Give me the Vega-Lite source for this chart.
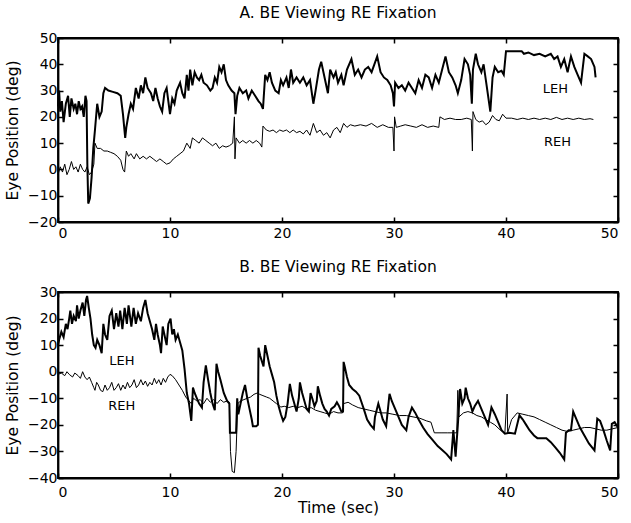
{
  "$schema": "https://vega.github.io/schema/vega-lite/v6.json",
  "background": "white",
  "padding": {"left": 4, "top": 4, "right": 5, "bottom": 3},
  "config": {
    "font": "DejaVu Sans",
    "view": {"stroke": "black", "strokeWidth": 1.8},
    "axis": {"domainColor": "black", "domainWidth": 1.8, "tickColor": "black", "tickSize": -5, "tickWidth": 1.5, "labelColor": "black", "labelFontSize": 14, "titleColor": "black", "titleFontSize": 15.5, "titleFontWeight": "normal", "grid": false, "labelFont": "DejaVu Sans", "titleFont": "DejaVu Sans"},
    "title": {"fontSize": 15.5, "fontWeight": "normal", "color": "black", "frame": "group", "anchor": "middle", "font": "DejaVu Sans"}
  },
  "datasets": {
    "a": [
      {"s":"LEH","t":0,"v":24},{"s":"LEH","t":0.1,"v":30},{"s":"LEH","t":0.2,"v":22},{"s":"LEH","t":0.35,"v":26},{"s":"LEH","t":0.5,"v":18},{"s":"LEH","t":0.7,"v":25},{"s":"LEH","t":0.9,"v":28},{"s":"LEH","t":1.05,"v":20},{"s":"LEH","t":1.2,"v":27},{"s":"LEH","t":1.4,"v":23},{"s":"LEH","t":1.55,"v":25},{"s":"LEH","t":1.7,"v":21},{"s":"LEH","t":1.85,"v":26},{"s":"LEH","t":2.0,"v":23},{"s":"LEH","t":2.15,"v":24},{"s":"LEH","t":2.3,"v":20},{"s":"LEH","t":2.45,"v":28},{"s":"LEH","t":2.55,"v":26},{"s":"LEH","t":2.62,"v":2},{"s":"LEH","t":2.7,"v":-13},{"s":"LEH","t":2.85,"v":-11},{"s":"LEH","t":3.0,"v":-3},{"s":"LEH","t":3.15,"v":8},{"s":"LEH","t":3.3,"v":15},{"s":"LEH","t":3.5,"v":25},{"s":"LEH","t":3.7,"v":20},{"s":"LEH","t":3.9,"v":22},{"s":"LEH","t":4.05,"v":29},{"s":"LEH","t":4.2,"v":31},{"s":"LEH","t":4.5,"v":30},{"s":"LEH","t":4.9,"v":29.5},{"s":"LEH","t":5.3,"v":29},{"s":"LEH","t":5.6,"v":28},{"s":"LEH","t":5.8,"v":21},{"s":"LEH","t":6.0,"v":12},{"s":"LEH","t":6.1,"v":16},{"s":"LEH","t":6.3,"v":21},{"s":"LEH","t":6.5,"v":25},{"s":"LEH","t":6.7,"v":23},{"s":"LEH","t":6.95,"v":31},{"s":"LEH","t":7.2,"v":27},{"s":"LEH","t":7.4,"v":32},{"s":"LEH","t":7.6,"v":29},{"s":"LEH","t":7.8,"v":35},{"s":"LEH","t":8.0,"v":31},{"s":"LEH","t":8.3,"v":29},{"s":"LEH","t":8.5,"v":26},{"s":"LEH","t":8.7,"v":31},{"s":"LEH","t":8.9,"v":27},{"s":"LEH","t":9.1,"v":24},{"s":"LEH","t":9.3,"v":22},{"s":"LEH","t":9.5,"v":29},{"s":"LEH","t":9.7,"v":31},{"s":"LEH","t":9.85,"v":26},{"s":"LEH","t":10.0,"v":21},{"s":"LEH","t":10.2,"v":27},{"s":"LEH","t":10.4,"v":25},{"s":"LEH","t":10.6,"v":30},{"s":"LEH","t":10.9,"v":33},{"s":"LEH","t":11.1,"v":29},{"s":"LEH","t":11.3,"v":27},{"s":"LEH","t":11.5,"v":36},{"s":"LEH","t":11.65,"v":30},{"s":"LEH","t":11.8,"v":38},{"s":"LEH","t":12.0,"v":32},{"s":"LEH","t":12.2,"v":37},{"s":"LEH","t":12.4,"v":35},{"s":"LEH","t":12.6,"v":34},{"s":"LEH","t":12.8,"v":36},{"s":"LEH","t":13.0,"v":33},{"s":"LEH","t":13.3,"v":32},{"s":"LEH","t":13.6,"v":30},{"s":"LEH","t":13.8,"v":31},{"s":"LEH","t":14.0,"v":35},{"s":"LEH","t":14.2,"v":33},{"s":"LEH","t":14.4,"v":39},{"s":"LEH","t":14.6,"v":37},{"s":"LEH","t":14.8,"v":40},{"s":"LEH","t":15.0,"v":34},{"s":"LEH","t":15.2,"v":32},{"s":"LEH","t":15.5,"v":30},{"s":"LEH","t":15.75,"v":29},{"s":"LEH","t":15.85,"v":21},{"s":"LEH","t":16.0,"v":28},{"s":"LEH","t":16.2,"v":31},{"s":"LEH","t":16.5,"v":29},{"s":"LEH","t":16.8,"v":30},{"s":"LEH","t":17.0,"v":27},{"s":"LEH","t":17.3,"v":30},{"s":"LEH","t":17.6,"v":28},{"s":"LEH","t":17.9,"v":26},{"s":"LEH","t":18.1,"v":25},{"s":"LEH","t":18.3,"v":23},{"s":"LEH","t":18.5,"v":36},{"s":"LEH","t":18.7,"v":34},{"s":"LEH","t":18.9,"v":37},{"s":"LEH","t":19.1,"v":33},{"s":"LEH","t":19.4,"v":30},{"s":"LEH","t":19.7,"v":29},{"s":"LEH","t":19.9,"v":34},{"s":"LEH","t":20.1,"v":32},{"s":"LEH","t":20.4,"v":35},{"s":"LEH","t":20.6,"v":31},{"s":"LEH","t":20.8,"v":38},{"s":"LEH","t":21.0,"v":33},{"s":"LEH","t":21.3,"v":35},{"s":"LEH","t":21.6,"v":33},{"s":"LEH","t":21.9,"v":35},{"s":"LEH","t":22.2,"v":32},{"s":"LEH","t":22.5,"v":34},{"s":"LEH","t":22.8,"v":25},{"s":"LEH","t":23.0,"v":30},{"s":"LEH","t":23.3,"v":38},{"s":"LEH","t":23.5,"v":41},{"s":"LEH","t":23.7,"v":37},{"s":"LEH","t":23.9,"v":33},{"s":"LEH","t":24.1,"v":29},{"s":"LEH","t":24.3,"v":38},{"s":"LEH","t":24.6,"v":35},{"s":"LEH","t":24.8,"v":37},{"s":"LEH","t":25.0,"v":33},{"s":"LEH","t":25.3,"v":36},{"s":"LEH","t":25.5,"v":32},{"s":"LEH","t":25.8,"v":38},{"s":"LEH","t":26.2,"v":42},{"s":"LEH","t":26.5,"v":36},{"s":"LEH","t":26.8,"v":38},{"s":"LEH","t":27.1,"v":35},{"s":"LEH","t":27.4,"v":38},{"s":"LEH","t":27.7,"v":39},{"s":"LEH","t":28.0,"v":37},{"s":"LEH","t":28.5,"v":43},{"s":"LEH","t":28.8,"v":37},{"s":"LEH","t":29.1,"v":35},{"s":"LEH","t":29.4,"v":34},{"s":"LEH","t":29.7,"v":32},{"s":"LEH","t":29.9,"v":29},{"s":"LEH","t":30.0,"v":24},{"s":"LEH","t":30.1,"v":33},{"s":"LEH","t":30.4,"v":31},{"s":"LEH","t":30.7,"v":32},{"s":"LEH","t":31.0,"v":30},{"s":"LEH","t":31.3,"v":33},{"s":"LEH","t":31.6,"v":31},{"s":"LEH","t":31.9,"v":29},{"s":"LEH","t":32.2,"v":34},{"s":"LEH","t":32.5,"v":31},{"s":"LEH","t":32.8,"v":36},{"s":"LEH","t":33.1,"v":35},{"s":"LEH","t":33.4,"v":31},{"s":"LEH","t":33.7,"v":36},{"s":"LEH","t":34.0,"v":33},{"s":"LEH","t":34.3,"v":38},{"s":"LEH","t":34.6,"v":43},{"s":"LEH","t":34.9,"v":37},{"s":"LEH","t":35.2,"v":35},{"s":"LEH","t":35.5,"v":32},{"s":"LEH","t":35.7,"v":29},{"s":"LEH","t":36.0,"v":34},{"s":"LEH","t":36.3,"v":42},{"s":"LEH","t":36.6,"v":40},{"s":"LEH","t":36.8,"v":36},{"s":"LEH","t":36.95,"v":25},{"s":"LEH","t":37.05,"v":38},{"s":"LEH","t":37.3,"v":44},{"s":"LEH","t":37.5,"v":40},{"s":"LEH","t":37.8,"v":37},{"s":"LEH","t":38.0,"v":40},{"s":"LEH","t":38.3,"v":31},{"s":"LEH","t":38.6,"v":22},{"s":"LEH","t":38.8,"v":35},{"s":"LEH","t":39.0,"v":39},{"s":"LEH","t":39.3,"v":37},{"s":"LEH","t":39.6,"v":37.5},{"s":"LEH","t":39.8,"v":36},{"s":"LEH","t":40.0,"v":45},{"s":"LEH","t":40.5,"v":45},{"s":"LEH","t":41.0,"v":45},{"s":"LEH","t":41.4,"v":45},{"s":"LEH","t":41.6,"v":44},{"s":"LEH","t":42.0,"v":44.5},{"s":"LEH","t":42.5,"v":43.5},{"s":"LEH","t":43.0,"v":44},{"s":"LEH","t":43.5,"v":43},{"s":"LEH","t":44.0,"v":44},{"s":"LEH","t":44.3,"v":42},{"s":"LEH","t":44.6,"v":43},{"s":"LEH","t":44.9,"v":39},{"s":"LEH","t":45.2,"v":42},{"s":"LEH","t":45.5,"v":37},{"s":"LEH","t":45.8,"v":43},{"s":"LEH","t":46.1,"v":39},{"s":"LEH","t":46.4,"v":36},{"s":"LEH","t":46.7,"v":33},{"s":"LEH","t":47.0,"v":44},{"s":"LEH","t":47.3,"v":43},{"s":"LEH","t":47.6,"v":42},{"s":"LEH","t":47.9,"v":39},{"s":"LEH","t":48.0,"v":35},
      {"s":"REH","t":0,"v":-2},{"s":"REH","t":0.2,"v":1},{"s":"REH","t":0.4,"v":-1},{"s":"REH","t":0.6,"v":2},{"s":"REH","t":0.8,"v":-2},{"s":"REH","t":1.0,"v":0},{"s":"REH","t":1.2,"v":3},{"s":"REH","t":1.4,"v":0},{"s":"REH","t":1.6,"v":1},{"s":"REH","t":1.8,"v":-1},{"s":"REH","t":2.0,"v":2},{"s":"REH","t":2.2,"v":0},{"s":"REH","t":2.4,"v":-1},{"s":"REH","t":2.6,"v":1},{"s":"REH","t":2.8,"v":-2},{"s":"REH","t":3.0,"v":-1},{"s":"REH","t":3.2,"v":2},{"s":"REH","t":3.3,"v":10},{"s":"REH","t":3.5,"v":8},{"s":"REH","t":3.8,"v":8},{"s":"REH","t":4.1,"v":7},{"s":"REH","t":4.4,"v":7},{"s":"REH","t":4.7,"v":6.5},{"s":"REH","t":5.0,"v":6},{"s":"REH","t":5.3,"v":5},{"s":"REH","t":5.6,"v":3.5},{"s":"REH","t":5.8,"v":0},{"s":"REH","t":5.95,"v":-1},{"s":"REH","t":6.1,"v":7},{"s":"REH","t":6.3,"v":5},{"s":"REH","t":6.5,"v":6},{"s":"REH","t":6.8,"v":4},{"s":"REH","t":7.0,"v":6},{"s":"REH","t":7.3,"v":4},{"s":"REH","t":7.6,"v":5},{"s":"REH","t":7.9,"v":4},{"s":"REH","t":8.2,"v":5},{"s":"REH","t":8.5,"v":4},{"s":"REH","t":8.8,"v":3},{"s":"REH","t":9.1,"v":4},{"s":"REH","t":9.4,"v":3},{"s":"REH","t":9.7,"v":2},{"s":"REH","t":10.0,"v":2.5},{"s":"REH","t":10.3,"v":4},{"s":"REH","t":10.6,"v":5},{"s":"REH","t":10.9,"v":6},{"s":"REH","t":11.2,"v":7},{"s":"REH","t":11.5,"v":10},{"s":"REH","t":11.8,"v":8},{"s":"REH","t":12.0,"v":12},{"s":"REH","t":12.3,"v":11},{"s":"REH","t":12.6,"v":10},{"s":"REH","t":12.9,"v":12},{"s":"REH","t":13.2,"v":11},{"s":"REH","t":13.5,"v":10},{"s":"REH","t":13.8,"v":9},{"s":"REH","t":14.1,"v":10},{"s":"REH","t":14.4,"v":8},{"s":"REH","t":14.7,"v":9},{"s":"REH","t":15.0,"v":8.5},{"s":"REH","t":15.3,"v":9},{"s":"REH","t":15.6,"v":10},{"s":"REH","t":15.75,"v":20},{"s":"REH","t":15.8,"v":4},{"s":"REH","t":15.9,"v":12},{"s":"REH","t":16.2,"v":10},{"s":"REH","t":16.5,"v":11},{"s":"REH","t":16.8,"v":10},{"s":"REH","t":17.1,"v":11},{"s":"REH","t":17.4,"v":10},{"s":"REH","t":17.7,"v":11},{"s":"REH","t":18.0,"v":10},{"s":"REH","t":18.2,"v":8.5},{"s":"REH","t":18.3,"v":16.5},{"s":"REH","t":18.6,"v":15},{"s":"REH","t":18.9,"v":14.5},{"s":"REH","t":19.2,"v":15},{"s":"REH","t":19.5,"v":14},{"s":"REH","t":19.8,"v":15},{"s":"REH","t":20.1,"v":14.5},{"s":"REH","t":20.4,"v":15},{"s":"REH","t":20.7,"v":14},{"s":"REH","t":21.0,"v":15},{"s":"REH","t":21.3,"v":14},{"s":"REH","t":21.6,"v":14.5},{"s":"REH","t":21.9,"v":13.5},{"s":"REH","t":22.2,"v":15},{"s":"REH","t":22.5,"v":13},{"s":"REH","t":22.8,"v":17.5},{"s":"REH","t":23.1,"v":14},{"s":"REH","t":23.4,"v":15},{"s":"REH","t":23.7,"v":13},{"s":"REH","t":24.0,"v":14},{"s":"REH","t":24.3,"v":12},{"s":"REH","t":24.6,"v":15},{"s":"REH","t":24.9,"v":16},{"s":"REH","t":25.2,"v":14},{"s":"REH","t":25.5,"v":17.5},{"s":"REH","t":25.8,"v":16},{"s":"REH","t":26.1,"v":17},{"s":"REH","t":26.5,"v":16.5},{"s":"REH","t":27.0,"v":17},{"s":"REH","t":27.5,"v":16.5},{"s":"REH","t":28.0,"v":17.5},{"s":"REH","t":28.5,"v":16},{"s":"REH","t":29.0,"v":17},{"s":"REH","t":29.5,"v":16},{"s":"REH","t":29.9,"v":16},{"s":"REH","t":30.0,"v":7},{"s":"REH","t":30.05,"v":20},{"s":"REH","t":30.2,"v":16},{"s":"REH","t":30.6,"v":16.5},{"s":"REH","t":31.0,"v":17},{"s":"REH","t":31.5,"v":16.5},{"s":"REH","t":32.0,"v":16},{"s":"REH","t":32.5,"v":17},{"s":"REH","t":33.0,"v":16},{"s":"REH","t":33.5,"v":16.5},{"s":"REH","t":34.0,"v":16},{"s":"REH","t":34.1,"v":20},{"s":"REH","t":34.5,"v":19},{"s":"REH","t":35.0,"v":19.5},{"s":"REH","t":35.5,"v":19},{"s":"REH","t":36.0,"v":19},{"s":"REH","t":36.5,"v":19.5},{"s":"REH","t":36.9,"v":19},{"s":"REH","t":37.0,"v":7},{"s":"REH","t":37.05,"v":22},{"s":"REH","t":37.3,"v":19},{"s":"REH","t":37.6,"v":18},{"s":"REH","t":37.9,"v":18.5},{"s":"REH","t":38.2,"v":17},{"s":"REH","t":38.5,"v":18},{"s":"REH","t":38.8,"v":20.5},{"s":"REH","t":39.1,"v":19},{"s":"REH","t":39.4,"v":18.5},{"s":"REH","t":39.7,"v":21},{"s":"REH","t":40.0,"v":19.5},{"s":"REH","t":40.5,"v":19.5},{"s":"REH","t":41.0,"v":19},{"s":"REH","t":41.5,"v":19.5},{"s":"REH","t":42.0,"v":19},{"s":"REH","t":42.5,"v":19.5},{"s":"REH","t":43.0,"v":19},{"s":"REH","t":43.5,"v":19.5},{"s":"REH","t":44.0,"v":19},{"s":"REH","t":44.5,"v":19.8},{"s":"REH","t":45.0,"v":19},{"s":"REH","t":45.5,"v":19.5},{"s":"REH","t":46.0,"v":19},{"s":"REH","t":46.5,"v":19.5},{"s":"REH","t":47.0,"v":19},{"s":"REH","t":47.5,"v":19.3},{"s":"REH","t":47.8,"v":19}
    ],
    "b": [
      {"s":"LEH","t":0,"v":10},{"s":"LEH","t":0.1,"v":12},{"s":"LEH","t":0.3,"v":15},{"s":"LEH","t":0.5,"v":13},{"s":"LEH","t":0.7,"v":18},{"s":"LEH","t":0.85,"v":16},{"s":"LEH","t":1.0,"v":20},{"s":"LEH","t":1.1,"v":23},{"s":"LEH","t":1.25,"v":18},{"s":"LEH","t":1.4,"v":21},{"s":"LEH","t":1.6,"v":19},{"s":"LEH","t":1.7,"v":25},{"s":"LEH","t":1.85,"v":20},{"s":"LEH","t":2.0,"v":23},{"s":"LEH","t":2.2,"v":26},{"s":"LEH","t":2.35,"v":21},{"s":"LEH","t":2.5,"v":27},{"s":"LEH","t":2.6,"v":28.5},{"s":"LEH","t":2.75,"v":24},{"s":"LEH","t":2.9,"v":20},{"s":"LEH","t":3.05,"v":14},{"s":"LEH","t":3.2,"v":10},{"s":"LEH","t":3.35,"v":9},{"s":"LEH","t":3.5,"v":12},{"s":"LEH","t":3.7,"v":10},{"s":"LEH","t":3.9,"v":7},{"s":"LEH","t":4.05,"v":18},{"s":"LEH","t":4.2,"v":14},{"s":"LEH","t":4.4,"v":12},{"s":"LEH","t":4.6,"v":21},{"s":"LEH","t":4.8,"v":23},{"s":"LEH","t":5.0,"v":16},{"s":"LEH","t":5.2,"v":22},{"s":"LEH","t":5.4,"v":17},{"s":"LEH","t":5.55,"v":23},{"s":"LEH","t":5.75,"v":16},{"s":"LEH","t":5.95,"v":24},{"s":"LEH","t":6.15,"v":18},{"s":"LEH","t":6.3,"v":25},{"s":"LEH","t":6.55,"v":17},{"s":"LEH","t":6.75,"v":24},{"s":"LEH","t":6.95,"v":18},{"s":"LEH","t":7.15,"v":22},{"s":"LEH","t":7.4,"v":19},{"s":"LEH","t":7.6,"v":24},{"s":"LEH","t":7.8,"v":27},{"s":"LEH","t":8.0,"v":22},{"s":"LEH","t":8.2,"v":19},{"s":"LEH","t":8.4,"v":16},{"s":"LEH","t":8.6,"v":12},{"s":"LEH","t":8.75,"v":18},{"s":"LEH","t":8.9,"v":14},{"s":"LEH","t":9.1,"v":10},{"s":"LEH","t":9.2,"v":7},{"s":"LEH","t":9.35,"v":17},{"s":"LEH","t":9.55,"v":13},{"s":"LEH","t":9.7,"v":10},{"s":"LEH","t":9.85,"v":18},{"s":"LEH","t":10.05,"v":20},{"s":"LEH","t":10.2,"v":14},{"s":"LEH","t":10.35,"v":16},{"s":"LEH","t":10.5,"v":12},{"s":"LEH","t":10.7,"v":14},{"s":"LEH","t":10.9,"v":11},{"s":"LEH","t":11.1,"v":8},{"s":"LEH","t":11.3,"v":1},{"s":"LEH","t":11.5,"v":-8},{"s":"LEH","t":11.7,"v":-12},{"s":"LEH","t":11.9,"v":-18.5},{"s":"LEH","t":12.05,"v":-6},{"s":"LEH","t":12.2,"v":-8},{"s":"LEH","t":12.4,"v":-10},{"s":"LEH","t":12.6,"v":-12},{"s":"LEH","t":12.85,"v":-13.5},{"s":"LEH","t":13.0,"v":-4},{"s":"LEH","t":13.2,"v":2.4},{"s":"LEH","t":13.4,"v":-3},{"s":"LEH","t":13.6,"v":-8},{"s":"LEH","t":13.8,"v":-12},{"s":"LEH","t":14.0,"v":-14.5},{"s":"LEH","t":14.15,"v":3},{"s":"LEH","t":14.3,"v":0},{"s":"LEH","t":14.5,"v":-3},{"s":"LEH","t":14.8,"v":-8},{"s":"LEH","t":15.1,"v":-11},{"s":"LEH","t":15.3,"v":-12},{"s":"LEH","t":15.35,"v":-23},{"s":"LEH","t":15.6,"v":-23},{"s":"LEH","t":15.9,"v":-23},{"s":"LEH","t":16.0,"v":-10},{"s":"LEH","t":16.1,"v":-16},{"s":"LEH","t":16.3,"v":-12},{"s":"LEH","t":16.5,"v":-8},{"s":"LEH","t":16.7,"v":-5},{"s":"LEH","t":16.9,"v":-10},{"s":"LEH","t":17.1,"v":-14},{"s":"LEH","t":17.3,"v":-18},{"s":"LEH","t":17.4,"v":-20.5},{"s":"LEH","t":17.7,"v":-20.5},{"s":"LEH","t":17.85,"v":-20},{"s":"LEH","t":17.9,"v":9},{"s":"LEH","t":18.05,"v":6},{"s":"LEH","t":18.2,"v":4},{"s":"LEH","t":18.35,"v":2},{"s":"LEH","t":18.5,"v":10},{"s":"LEH","t":18.7,"v":6},{"s":"LEH","t":18.9,"v":2},{"s":"LEH","t":19.1,"v":-1},{"s":"LEH","t":19.3,"v":-4},{"s":"LEH","t":19.5,"v":-9},{"s":"LEH","t":19.7,"v":-13},{"s":"LEH","t":19.9,"v":-16},{"s":"LEH","t":20.1,"v":-18.5},{"s":"LEH","t":20.3,"v":-17},{"s":"LEH","t":20.5,"v":-12},{"s":"LEH","t":20.7,"v":-4.6},{"s":"LEH","t":20.9,"v":-9},{"s":"LEH","t":21.1,"v":-12},{"s":"LEH","t":21.3,"v":-15},{"s":"LEH","t":21.5,"v":-10},{"s":"LEH","t":21.6,"v":-4},{"s":"LEH","t":21.8,"v":-8},{"s":"LEH","t":22.0,"v":-11},{"s":"LEH","t":22.2,"v":-14},{"s":"LEH","t":22.4,"v":-15},{"s":"LEH","t":22.55,"v":-8},{"s":"LEH","t":22.7,"v":-10},{"s":"LEH","t":22.9,"v":-13},{"s":"LEH","t":23.1,"v":-11},{"s":"LEH","t":23.2,"v":-5.5},{"s":"LEH","t":23.4,"v":-9},{"s":"LEH","t":23.6,"v":-12},{"s":"LEH","t":23.8,"v":-14},{"s":"LEH","t":24.0,"v":-15},{"s":"LEH","t":24.2,"v":-16.5},{"s":"LEH","t":24.4,"v":-14},{"s":"LEH","t":24.7,"v":-13},{"s":"LEH","t":24.9,"v":-11.5},{"s":"LEH","t":25.1,"v":-13},{"s":"LEH","t":25.3,"v":-15},{"s":"LEH","t":25.45,"v":-15},{"s":"LEH","t":25.5,"v":3.7},{"s":"LEH","t":25.6,"v":2},{"s":"LEH","t":25.8,"v":-2},{"s":"LEH","t":26.0,"v":-5},{"s":"LEH","t":26.3,"v":-6.5},{"s":"LEH","t":26.6,"v":-7.5},{"s":"LEH","t":26.9,"v":-9},{"s":"LEH","t":27.1,"v":-11.5},{"s":"LEH","t":27.3,"v":-14},{"s":"LEH","t":27.6,"v":-18},{"s":"LEH","t":27.9,"v":-20},{"s":"LEH","t":28.2,"v":-21.5},{"s":"LEH","t":28.3,"v":-17},{"s":"LEH","t":28.6,"v":-12},{"s":"LEH","t":28.8,"v":-15},{"s":"LEH","t":29.0,"v":-18},{"s":"LEH","t":29.3,"v":-20.5},{"s":"LEH","t":29.6,"v":-8.3},{"s":"LEH","t":29.8,"v":-11},{"s":"LEH","t":30.1,"v":-14},{"s":"LEH","t":30.4,"v":-17},{"s":"LEH","t":30.7,"v":-20},{"s":"LEH","t":31.1,"v":-22},{"s":"LEH","t":31.3,"v":-17},{"s":"LEH","t":31.6,"v":-13.5},{"s":"LEH","t":31.9,"v":-15.5},{"s":"LEH","t":32.2,"v":-18},{"s":"LEH","t":32.6,"v":-21},{"s":"LEH","t":33.0,"v":-23.5},{"s":"LEH","t":33.4,"v":-25.5},{"s":"LEH","t":33.9,"v":-28},{"s":"LEH","t":34.3,"v":-29.5},{"s":"LEH","t":34.7,"v":-31},{"s":"LEH","t":35.1,"v":-33},{"s":"LEH","t":35.3,"v":-22},{"s":"LEH","t":35.5,"v":-32},{"s":"LEH","t":35.7,"v":-20},{"s":"LEH","t":35.9,"v":-6.5},{"s":"LEH","t":36.1,"v":-12},{"s":"LEH","t":36.3,"v":-10},{"s":"LEH","t":36.4,"v":-6},{"s":"LEH","t":36.6,"v":-10},{"s":"LEH","t":36.8,"v":-12},{"s":"LEH","t":37.0,"v":-15},{"s":"LEH","t":37.2,"v":-13},{"s":"LEH","t":37.5,"v":-11},{"s":"LEH","t":37.8,"v":-14},{"s":"LEH","t":38.1,"v":-17},{"s":"LEH","t":38.4,"v":-20},{"s":"LEH","t":38.7,"v":-13.4},{"s":"LEH","t":39.0,"v":-16},{"s":"LEH","t":39.3,"v":-19},{"s":"LEH","t":39.6,"v":-22},{"s":"LEH","t":39.9,"v":-23.3},{"s":"LEH","t":40.3,"v":-23},{"s":"LEH","t":40.8,"v":-23.3},{"s":"LEH","t":41.2,"v":-16.4},{"s":"LEH","t":41.5,"v":-18},{"s":"LEH","t":41.8,"v":-20},{"s":"LEH","t":42.1,"v":-22},{"s":"LEH","t":42.5,"v":-24},{"s":"LEH","t":42.8,"v":-25},{"s":"LEH","t":43.2,"v":-25},{"s":"LEH","t":43.6,"v":-25},{"s":"LEH","t":44.0,"v":-26.5},{"s":"LEH","t":44.4,"v":-28.5},{"s":"LEH","t":44.8,"v":-30.5},{"s":"LEH","t":45.2,"v":-33},{"s":"LEH","t":45.35,"v":-23},{"s":"LEH","t":45.6,"v":-22},{"s":"LEH","t":45.8,"v":-22},{"s":"LEH","t":46.0,"v":-15},{"s":"LEH","t":46.3,"v":-18},{"s":"LEH","t":46.6,"v":-21},{"s":"LEH","t":47.0,"v":-24},{"s":"LEH","t":47.4,"v":-27},{"s":"LEH","t":47.9,"v":-29.6},{"s":"LEH","t":48.15,"v":-17.7},{"s":"LEH","t":48.4,"v":-18.5},{"s":"LEH","t":48.7,"v":-22},{"s":"LEH","t":49.0,"v":-26},{"s":"LEH","t":49.3,"v":-29.6},{"s":"LEH","t":49.45,"v":-19.6},{"s":"LEH","t":49.7,"v":-19},{"s":"LEH","t":50.0,"v":-21},
      {"s":"REH","t":0,"v":-1},{"s":"REH","t":0.3,"v":-0.5},{"s":"REH","t":0.6,"v":-1.5},{"s":"REH","t":0.8,"v":0},{"s":"REH","t":1.0,"v":-1},{"s":"REH","t":1.3,"v":-2},{"s":"REH","t":1.5,"v":-0.5},{"s":"REH","t":1.8,"v":-1.5},{"s":"REH","t":2.0,"v":-2.5},{"s":"REH","t":2.2,"v":0},{"s":"REH","t":2.4,"v":-2},{"s":"REH","t":2.6,"v":-3},{"s":"REH","t":2.8,"v":-2},{"s":"REH","t":3.0,"v":-4},{"s":"REH","t":3.2,"v":-6},{"s":"REH","t":3.3,"v":-7},{"s":"REH","t":3.45,"v":-4},{"s":"REH","t":3.6,"v":-5},{"s":"REH","t":3.8,"v":-7},{"s":"REH","t":4.0,"v":-7.5},{"s":"REH","t":4.2,"v":-5},{"s":"REH","t":4.4,"v":-7},{"s":"REH","t":4.6,"v":-6},{"s":"REH","t":4.8,"v":-4},{"s":"REH","t":5.0,"v":-7},{"s":"REH","t":5.2,"v":-6},{"s":"REH","t":5.4,"v":-4.5},{"s":"REH","t":5.6,"v":-7},{"s":"REH","t":5.8,"v":-5},{"s":"REH","t":6.0,"v":-6.5},{"s":"REH","t":6.2,"v":-4},{"s":"REH","t":6.4,"v":-6},{"s":"REH","t":6.6,"v":-5},{"s":"REH","t":6.8,"v":-3},{"s":"REH","t":7.0,"v":-6},{"s":"REH","t":7.2,"v":-5},{"s":"REH","t":7.4,"v":-3},{"s":"REH","t":7.6,"v":-5},{"s":"REH","t":7.8,"v":-3.5},{"s":"REH","t":8.0,"v":-5.5},{"s":"REH","t":8.2,"v":-4},{"s":"REH","t":8.4,"v":-5},{"s":"REH","t":8.6,"v":-2.5},{"s":"REH","t":8.8,"v":-4.5},{"s":"REH","t":9.0,"v":-3},{"s":"REH","t":9.2,"v":-5},{"s":"REH","t":9.4,"v":-2.5},{"s":"REH","t":9.6,"v":-4},{"s":"REH","t":9.8,"v":-2},{"s":"REH","t":10.0,"v":-1},{"s":"REH","t":10.2,"v":-1.5},{"s":"REH","t":10.5,"v":-3},{"s":"REH","t":10.8,"v":-5},{"s":"REH","t":11.1,"v":-7},{"s":"REH","t":11.4,"v":-9.5},{"s":"REH","t":11.7,"v":-11},{"s":"REH","t":11.9,"v":-12},{"s":"REH","t":12.1,"v":-10},{"s":"REH","t":12.4,"v":-11},{"s":"REH","t":12.7,"v":-10.5},{"s":"REH","t":13.0,"v":-12},{"s":"REH","t":13.3,"v":-10},{"s":"REH","t":13.6,"v":-11.5},{"s":"REH","t":13.9,"v":-10.5},{"s":"REH","t":14.2,"v":-12},{"s":"REH","t":14.5,"v":-10.5},{"s":"REH","t":14.8,"v":-11.5},{"s":"REH","t":15.1,"v":-11},{"s":"REH","t":15.3,"v":-11.5},{"s":"REH","t":15.4,"v":-30},{"s":"REH","t":15.55,"v":-37.5},{"s":"REH","t":15.75,"v":-38},{"s":"REH","t":15.9,"v":-30},{"s":"REH","t":16.05,"v":-12},{"s":"REH","t":16.3,"v":-11},{"s":"REH","t":16.6,"v":-10.5},{"s":"REH","t":16.9,"v":-10},{"s":"REH","t":17.2,"v":-9.5},{"s":"REH","t":17.5,"v":-8.5},{"s":"REH","t":17.8,"v":-8},{"s":"REH","t":18.0,"v":-8.5},{"s":"REH","t":18.3,"v":-9},{"s":"REH","t":18.6,"v":-9.5},{"s":"REH","t":18.9,"v":-10},{"s":"REH","t":19.2,"v":-11},{"s":"REH","t":19.5,"v":-12},{"s":"REH","t":19.9,"v":-13.3},{"s":"REH","t":20.2,"v":-13},{"s":"REH","t":20.6,"v":-13.5},{"s":"REH","t":21.0,"v":-13},{"s":"REH","t":21.4,"v":-13.5},{"s":"REH","t":21.8,"v":-13},{"s":"REH","t":22.2,"v":-14},{"s":"REH","t":22.6,"v":-13.5},{"s":"REH","t":23.0,"v":-14.5},{"s":"REH","t":23.4,"v":-15},{"s":"REH","t":23.8,"v":-15.5},{"s":"REH","t":24.2,"v":-16},{"s":"REH","t":24.6,"v":-15},{"s":"REH","t":25.0,"v":-15.5},{"s":"REH","t":25.4,"v":-15.5},{"s":"REH","t":25.5,"v":-12},{"s":"REH","t":25.9,"v":-11.5},{"s":"REH","t":26.3,"v":-12.5},{"s":"REH","t":26.8,"v":-13.5},{"s":"REH","t":27.3,"v":-14},{"s":"REH","t":27.8,"v":-14.5},{"s":"REH","t":28.3,"v":-15},{"s":"REH","t":28.8,"v":-15.5},{"s":"REH","t":29.3,"v":-15.5},{"s":"REH","t":29.9,"v":-16},{"s":"REH","t":30.5,"v":-16.5},{"s":"REH","t":31.1,"v":-16.5},{"s":"REH","t":31.7,"v":-17},{"s":"REH","t":32.3,"v":-17.5},{"s":"REH","t":32.9,"v":-18.5},{"s":"REH","t":33.3,"v":-19},{"s":"REH","t":33.6,"v":-23},{"s":"REH","t":34.2,"v":-23},{"s":"REH","t":34.8,"v":-23},{"s":"REH","t":35.4,"v":-23},{"s":"REH","t":35.6,"v":-23},{"s":"REH","t":35.7,"v":-7},{"s":"REH","t":35.8,"v":-17},{"s":"REH","t":36.2,"v":-15.5},{"s":"REH","t":36.6,"v":-15},{"s":"REH","t":37.0,"v":-15.5},{"s":"REH","t":37.4,"v":-16.5},{"s":"REH","t":37.8,"v":-17},{"s":"REH","t":38.2,"v":-18},{"s":"REH","t":38.6,"v":-19},{"s":"REH","t":39.0,"v":-20},{"s":"REH","t":39.5,"v":-22},{"s":"REH","t":39.9,"v":-23},{"s":"REH","t":40.1,"v":-8.4},{"s":"REH","t":40.15,"v":-23},{"s":"REH","t":40.5,"v":-18},{"s":"REH","t":41.0,"v":-15.5},{"s":"REH","t":41.5,"v":-16},{"s":"REH","t":42.0,"v":-16.5},{"s":"REH","t":42.5,"v":-17},{"s":"REH","t":43.0,"v":-18},{"s":"REH","t":43.5,"v":-19},{"s":"REH","t":44.0,"v":-20},{"s":"REH","t":44.5,"v":-21},{"s":"REH","t":45.0,"v":-22},{"s":"REH","t":45.5,"v":-22.5},{"s":"REH","t":46.0,"v":-22},{"s":"REH","t":46.5,"v":-21.5},{"s":"REH","t":47.0,"v":-21},{"s":"REH","t":47.5,"v":-21},{"s":"REH","t":48.0,"v":-21.5},{"s":"REH","t":48.5,"v":-22},{"s":"REH","t":49.0,"v":-22},{"s":"REH","t":49.5,"v":-21.5},{"s":"REH","t":50.0,"v":-21}
    ]
  },
  "vconcat": [
    {
      "title": {"text": "A.  BE Viewing RE Fixation", "offset": 10},
      "width": 560,
      "height": 184,
      "resolve": {"axis": {"x": "independent", "y": "independent"}},
      "layer": [
        {
          "data": {"name": "a"},
          "mark": {"type": "line", "color": "black", "strokeJoin": "miter"},
          "encoding": {
            "x": {"field": "t", "type": "quantitative", "scale": {"domain": [0, 50], "nice": false}, "axis": {"values": [0, 10, 20, 30, 40, 50], "title": null, "labelPadding": 9}},
            "y": {"field": "v", "type": "quantitative", "scale": {"domain": [-20, 50], "nice": false}, "axis": {"values": [-20, -10, 0, 10, 20, 30, 40, 50], "title": "Eye Position (deg)", "labelPadding": 6, "titlePadding": 7}},
            "detail": {"field": "s"},
            "strokeWidth": {"field": "s", "type": "nominal", "scale": {"domain": ["LEH", "REH"], "range": [2, 1]}, "legend": null}
          }
        },
        {
          "data": {"values": [{"label": "LEH", "t": 44.4, "v": 30.5}, {"label": "REH", "t": 44.6, "v": 10.4}]},
          "mark": {"type": "text", "fontSize": 13, "color": "black"},
          "encoding": {
            "x": {"field": "t", "type": "quantitative", "axis": {"orient": "top", "values": [0, 10, 20, 30, 40, 50], "labels": false, "title": null}},
            "y": {"field": "v", "type": "quantitative", "axis": {"orient": "right", "values": [-20, -10, 0, 10, 20, 30, 40, 50], "labels": false, "title": null}},
            "text": {"field": "label"}
          }
        }
      ]
    },
    {
      "title": {"text": "B.  BE Viewing RE Fixation", "offset": 10},
      "width": 560,
      "height": 186,
      "resolve": {"axis": {"x": "independent", "y": "independent"}},
      "layer": [
        {
          "data": {"name": "b"},
          "mark": {"type": "line", "color": "black", "strokeJoin": "miter"},
          "encoding": {
            "x": {"field": "t", "type": "quantitative", "scale": {"domain": [0, 50], "nice": false}, "axis": {"values": [0, 10, 20, 30, 40, 50], "title": "Time (sec)", "labelPadding": 12, "titlePadding": 1}},
            "y": {"field": "v", "type": "quantitative", "scale": {"domain": [-40, 30], "nice": false}, "axis": {"values": [-40, -30, -20, -10, 0, 10, 20, 30], "title": "Eye Position (deg)", "labelPadding": 6, "titlePadding": 7}},
            "detail": {"field": "s"},
            "strokeWidth": {"field": "s", "type": "nominal", "scale": {"domain": ["LEH", "REH"], "range": [2, 1]}, "legend": null}
          }
        },
        {
          "data": {"values": [{"label": "LEH", "t": 5.7, "v": 4}, {"label": "REH", "t": 5.7, "v": -13}]},
          "mark": {"type": "text", "fontSize": 13, "color": "black"},
          "encoding": {
            "x": {"field": "t", "type": "quantitative", "axis": {"orient": "top", "values": [0, 10, 20, 30, 40, 50], "labels": false, "title": null}},
            "y": {"field": "v", "type": "quantitative", "axis": {"orient": "right", "values": [-40, -30, -20, -10, 0, 10, 20, 30], "labels": false, "title": null}},
            "text": {"field": "label"}
          }
        }
      ]
    }
  ],
  "spacing": 70,
  "bounds": "flush"
}
